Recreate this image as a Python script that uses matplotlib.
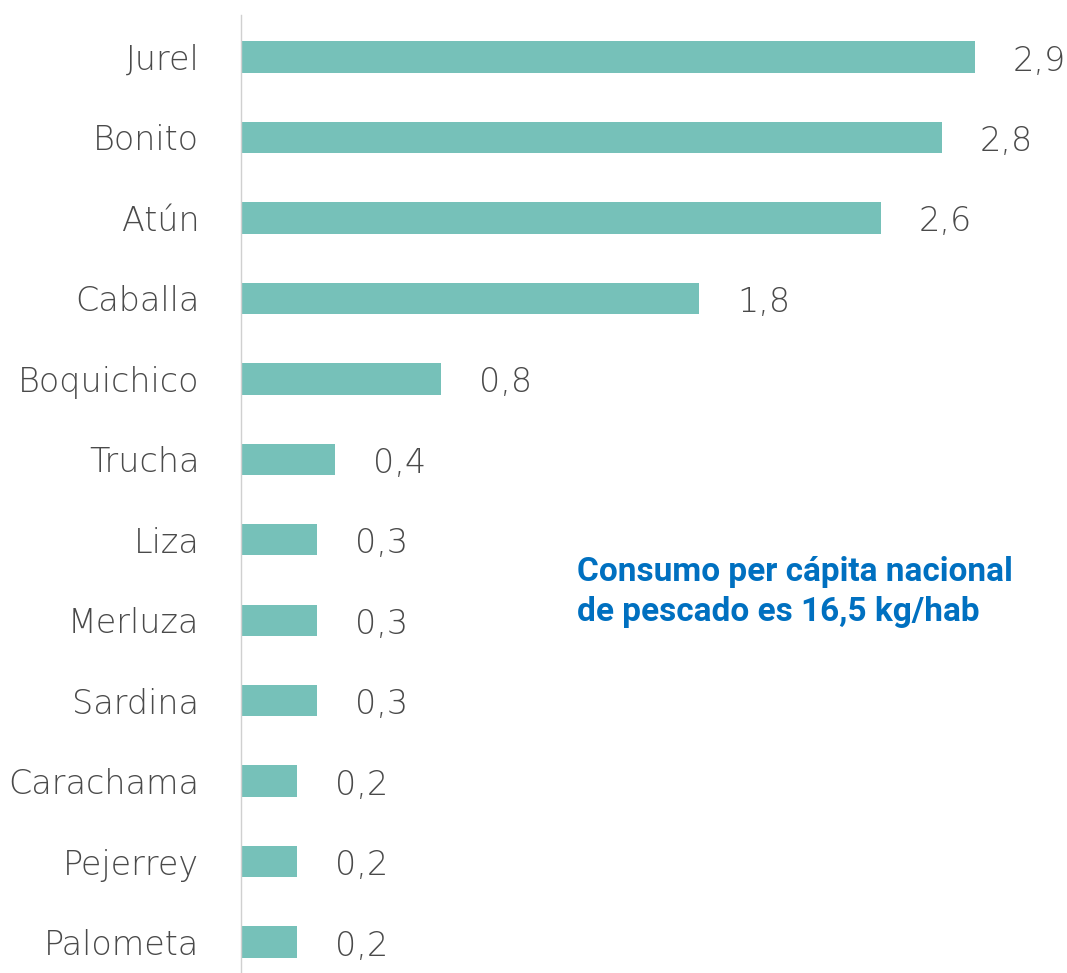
import matplotlib.pyplot as plt

# species and per capita consumption (kg/hab)
species = ["Jurel", "Bonito", "Atún", "Caballa", "Boquichico", "Trucha",
           "Liza", "Merluza", "Sardina", "Carachama", "Pejerrey", "Palometa"]
values = [2.9, 2.77, 2.53, 1.81, 0.79, 0.37, 0.30, 0.30, 0.30, 0.22, 0.22, 0.22]
value_labels = ["2,9", "2,8", "2,6", "1,8", "0,8", "0,4",
                "0,3", "0,3", "0,3", "0,2", "0,2", "0,2"]

bar_color = "#76C1B9"
text_color = "#4A4A4A"
note_color = "#0070C0"

fig = plt.figure(figsize=(10.67, 9.73), dpi=100)
ax = fig.add_axes([241 / 1067, 0, 826 / 1067, 958 / 973])

y = list(range(len(species)))
ax.barh(y, values, height=0.39, color=bar_color)

ax.set_xlim(0, 826 / 253)
ax.set_ylim(11.385, -0.522)

for spine in ["top", "right", "bottom"]:
    ax.spines[spine].set_visible(False)
ax.spines["left"].set_color("#D0D0D0")
ax.spines["left"].set_linewidth(1)

ax.set_xticks([])
ax.set_yticks(y)
ax.set_yticklabels(species, fontsize=24, color=text_color,
                   family="DejaVu Sans", fontweight="light")
ax.tick_params(axis="y", length=0, pad=30)

for yi, v, lab in zip(y, values, value_labels):
    ax.text(v + 0.15, yi + 0.05, lab, va="center", ha="left", fontsize=24,
            color=text_color, family="DejaVu Sans", fontweight="light")

fig.text(577 / 1067, 1 - 592 / 973,
         "Consumo per cápita nacional\nde pescado es 16,5 kg/hab",
         ha="left", va="center", fontsize=24, color=note_color,
         family="Roboto", fontweight="bold", linespacing=1.3)

fig.savefig("out.png", dpi=100, facecolor="white")
